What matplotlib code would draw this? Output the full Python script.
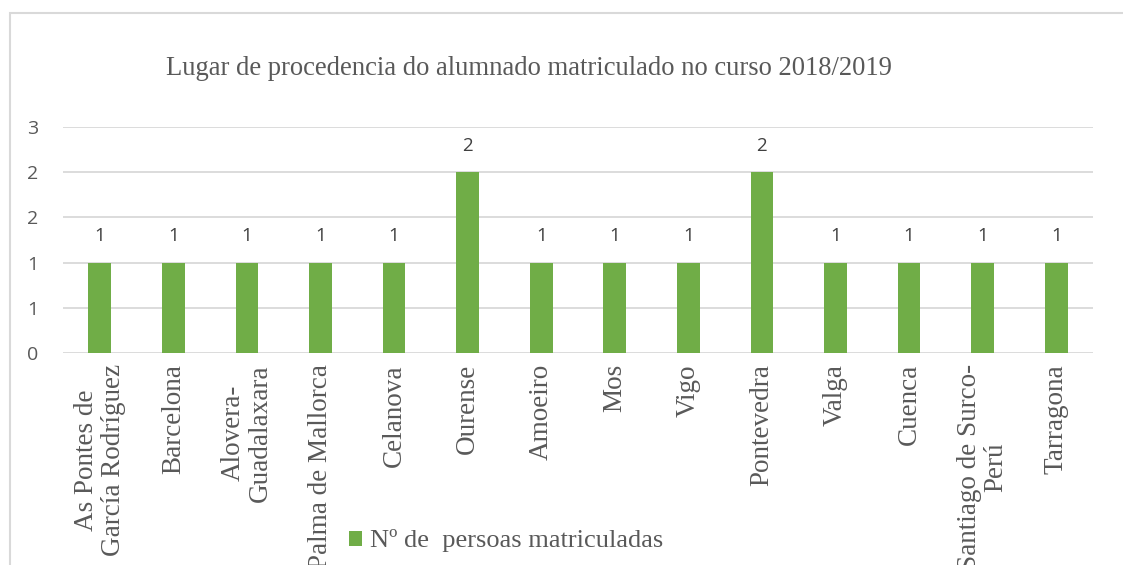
import matplotlib
matplotlib.use("Agg")
import matplotlib.pyplot as plt
from matplotlib.patches import Rectangle

categories = ["As Pontes de\nGarcía Rodríguez", "Barcelona", "Alovera-\nGuadalaxara",
              "Palma de Mallorca", "Celanova", "Ourense", "Amoeiro", "Mos", "Vigo",
              "Pontevedra", "Valga", "Cuenca", "Santiago de Surco-\nPerú", "Tarragona"]
values = [1, 1, 1, 1, 1, 2, 1, 1, 1, 2, 1, 1, 1, 1]
y_ticks = [0, 0.5, 1.0, 1.5, 2.0, 2.5]
y_tick_labels = ["0", "1", "1", "2", "2", "3"]
title = "Lugar de procedencia do alumnado matriculado no curso 2018/2019"
series_name = "Nº de  persoas matriculadas"

W, H = 1123, 565
fig = plt.figure(figsize=(W / 100, H / 100), dpi=100)
fig.patch.set_facecolor("white")

# outer chart border (cropped screenshot)
fig.patches.append(Rectangle((10 / W, -0.1), 1.2, 1 - 13 / H + 0.1, transform=fig.transFigure,
                             fill=False, edgecolor="#d9d9d9", linewidth=1.5))

ax = fig.add_axes([63 / W, 1 - 353 / H, (1093 - 63) / W, (353 - 127) / H])
x = list(range(len(categories)))
bars = ax.bar(x, values, width=0.31, color="#70ad47", zorder=3, label=series_name)
ax.set_xlim(-0.5, len(categories) - 0.5)
ax.set_ylim(0, 2.5)
ax.set_yticks(y_ticks)
ax.set_yticklabels(y_tick_labels)
ax.grid(axis="y", color="#d9d9d9", linewidth=1.3, zorder=0)
for s in ax.spines.values():
    s.set_visible(False)
ax.tick_params(axis="y", length=0, pad=18, labelsize=14, labelcolor="#595959")
ax.tick_params(axis="x", length=0, pad=8)
for lab in ax.get_yticklabels():
    lab.set_family("Open Sans")
ax.set_xticks(x)
ax.set_xticklabels(categories, rotation=90, family="Liberation Serif", fontsize=19.5,
                   color="#595959", multialignment="center", linespacing=1.1)

for xi, v in zip(x, values):
    ax.annotate(f"{v}", (xi, v), xytext=(0, 19), textcoords="offset points",
                ha="center", va="center", fontsize=13.5, color="#404040", family="Open Sans")

fig.text(529 / W, 1 - 68 / H, title, ha="center", va="center", family="Liberation Serif",
         fontsize=19.2, color="#595959")

leg = fig.legend(handles=[bars], labels=[series_name], loc="center",
                 bbox_to_anchor=(506 / W, 1 - 541 / H), frameon=False,
                 prop={"family": "Liberation Serif", "size": 19},
                 handlelength=0.5, handleheight=0.5, handletextpad=0.3, labelcolor="#595959")

fig.savefig("out.png", dpi=100)
